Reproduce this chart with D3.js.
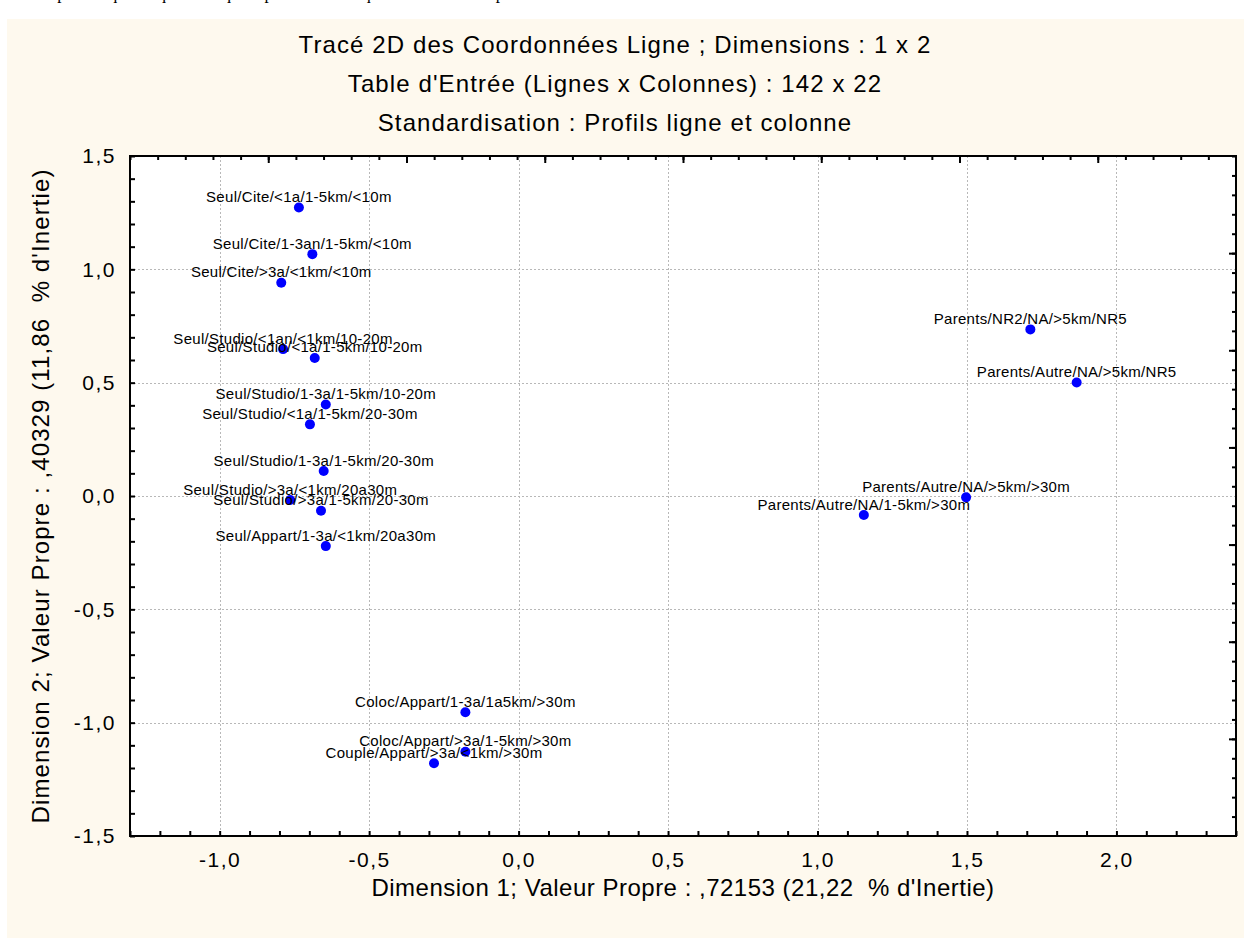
<!DOCTYPE html>
<html>
<head>
<meta charset="utf-8">
<script src="https://cdn.jsdelivr.net/npm/d3@7"></script>
<style>
  body { margin: 0; background: #fff; }
  svg { display: block; font-family: "Liberation Sans", Arial, sans-serif; }
</style>
</head>
<body>
<svg id="chart"></svg>
<script>
// --- data ---
const rowLabels = [
  "Seul/Cite/<1a/1-5km/<10m",
  "Seul/Cite/1-3an/1-5km/<10m",
  "Seul/Cite/>3a/<1km/<10m",
  "Seul/Studio/<1an/<1km/10-20m",
  "Seul/Studio/<1a/1-5km/10-20m",
  "Seul/Studio/1-3a/1-5km/10-20m",
  "Seul/Studio/<1a/1-5km/20-30m",
  "Seul/Studio/1-3a/1-5km/20-30m",
  "Seul/Studio/>3a/<1km/20a30m",
  "Seul/Studio/>3a/1-5km/20-30m",
  "Seul/Appart/1-3a/<1km/20a30m",
  "Coloc/Appart/1-3a/1a5km/>30m",
  "Coloc/Appart/>3a/1-5km/>30m",
  "Couple/Appart/>3a/<1km/>30m",
  "Parents/NR2/NA/>5km/NR5",
  "Parents/Autre/NA/>5km/NR5",
  "Parents/Autre/NA/>5km/>30m",
  "Parents/Autre/NA/1-5km/>30m"
];
const dim1 = [-0.735, -0.690, -0.794, -0.788, -0.682, -0.645, -0.698, -0.652, -0.764,
              -0.661, -0.645, -0.178, -0.178, -0.283, 1.712, 1.867, 1.497, 1.155];
const dim2 = [1.273, 1.067, 0.941, 0.648, 0.609, 0.404, 0.316, 0.110, -0.018,
              -0.065, -0.221, -0.954, -1.128, -1.179, 0.735, 0.501, -0.006, -0.084];

const xTickValues = [-1.0, -0.5, 0.0, 0.5, 1.0, 1.5, 2.0];
const yTickValues = [-1.5, -1.0, -0.5, 0.0, 0.5, 1.0, 1.5];
const xDomain = [-1.3, 2.4];
const yDomain = [-1.5, 1.5];

const titleLines = [
  "Tracé 2D des Coordonnées Ligne ; Dimensions : 1 x 2",
  "Table d'Entrée (Lignes x Colonnes) : 142 x 22",
  "Standardisation : Profils ligne et colonne"
];
const xAxisTitle = "Dimension 1; Valeur Propre : ,72153 (21,22  % d'Inertie)";
const yAxisTitle = "Dimension 2; Valeur Propre : ,40329 (11,86  % d'Inertie)";
const cutText = "teurs plus fréquents que ceux qui dépendent de ce qui a été constaté à partir des résultats.";

class CoordPlot {

  constructor(_config) {
    this.config = {
      parentElement: _config.parentElement,
      containerWidth: _config.containerWidth || 1244,
      containerHeight: _config.containerHeight || 938,
      plot: { left: 130, right: 1236, top: 156, bottom: 836 }
    };
    this.initVis();
  }

  initVis() {
    let vis = this;
    const p = vis.config.plot;

    vis.svg = d3.select(vis.config.parentElement)
      .attr('width', vis.config.containerWidth)
      .attr('height', vis.config.containerHeight);

    // french number format : comma decimal, plain hyphen minus
    vis.fmt = d3.formatLocale({ decimal: ',', thousands: ' ', grouping: [3], currency: ['', ''], minus: '-' })
      .format('.1f');

    vis.xScale = d3.scaleLinear().domain(xDomain).range([p.left, p.right]);
    vis.yScale = d3.scaleLinear().domain(yDomain).range([p.bottom, p.top]);

    // secondary scales STATISTICA puts on top / right (not aligned with grid)
    vis.topScale = d3.scaleLinear().domain([0, 8]).range([p.left, p.right]);
    vis.rightScale = d3.scaleLinear().domain([0, 7]).range([p.top, p.bottom]);

    vis.renderVis();
  }

  renderVis() {
    let vis = this;
    const p = vis.config.plot;

    // cut-off line of the page above
    vis.svg.append('text')
      .attr('x', 20).attr('y', -1)
      .style('font-family', '"Liberation Serif", "Times New Roman", serif')
      .style('font-size', '17px')
      .text(cutText);

    // cream panel
    vis.svg.append('rect')
      .attr('x', 7).attr('y', 19)
      .attr('width', vis.config.containerWidth - 7)
      .attr('height', vis.config.containerHeight - 19)
      .attr('fill', '#fef9ee');

    vis.svg.append('rect')
      .attr('x', p.left).attr('y', p.top)
      .attr('width', p.right - p.left).attr('height', p.bottom - p.top)
      .attr('fill', '#fff');

    // grid
    const grid = vis.svg.append('g').attr('class', 'grid')
      .attr('stroke', '#b8b8b8').attr('stroke-dasharray', '2,2').attr('stroke-width', 1);
    grid.selectAll('.gx').data(xTickValues).join('line')
      .attr('x1', d => Math.round(vis.xScale(d)) + 0.5).attr('x2', d => Math.round(vis.xScale(d)) + 0.5)
      .attr('y1', p.top).attr('y2', p.bottom);
    grid.selectAll('.gy').data(yTickValues.slice(1, -1)).join('line')
      .attr('y1', d => Math.round(vis.yScale(d)) + 0.5).attr('y2', d => Math.round(vis.yScale(d)) + 0.5)
      .attr('x1', p.left).attr('x2', p.right);

    // minor ticks, inward
    const xMinor = d3.range(-13, 25).map(i => i / 10);
    const yMinor = d3.range(-15, 16).map(i => i / 10);

    const bottomTicks = vis.svg.append('g')
      .attr('transform', `translate(0,${p.bottom})`)
      .call(d3.axisBottom(vis.xScale).tickValues(xMinor).tickSize(-5).tickFormat(''));
    const leftTicks = vis.svg.append('g')
      .attr('transform', `translate(${p.left},0)`)
      .call(d3.axisLeft(vis.yScale).tickValues(yMinor).tickSize(-5).tickFormat(''));
    const topMinor = vis.svg.append('g')
      .attr('transform', `translate(0,${p.top})`)
      .call(d3.axisTop(vis.topScale).tickValues(d3.range(0, 40).map(i => i / 5)).tickSize(-4).tickFormat(''));
    const topMajor = vis.svg.append('g')
      .attr('transform', `translate(0,${p.top})`)
      .call(d3.axisTop(vis.topScale).tickValues(d3.range(1, 8)).tickSize(-7).tickFormat(''));
    const rightMinor = vis.svg.append('g')
      .attr('transform', `translate(${p.right},0)`)
      .call(d3.axisRight(vis.rightScale).tickValues(d3.range(0, 35).map(i => i / 5)).tickSize(-4).tickFormat(''));
    const rightMajor = vis.svg.append('g')
      .attr('transform', `translate(${p.right},0)`)
      .call(d3.axisRight(vis.rightScale).tickValues(d3.range(1, 7)).tickSize(-7).tickFormat(''));

    [bottomTicks, leftTicks, topMinor, topMajor, rightMinor, rightMajor].forEach(g => {
      g.select('.domain').remove();
      g.selectAll('line').attr('stroke', '#000').attr('stroke-width', 2);
    });

    // tick labels
    const xLab = vis.svg.append('g')
      .attr('transform', `translate(0,${p.bottom})`)
      .call(d3.axisBottom(vis.xScale).tickValues(xTickValues).tickSize(0).tickPadding(16).tickFormat(vis.fmt));
    const yLab = vis.svg.append('g')
      .attr('transform', `translate(${p.left},0)`)
      .call(d3.axisLeft(vis.yScale).tickValues(yTickValues).tickSize(0).tickPadding(14).tickFormat(vis.fmt));
    [xLab, yLab].forEach(g => {
      g.select('.domain').remove();
      g.selectAll('text')
        .attr('fill', '#000')
        .style('font-family', '"Liberation Sans", Arial, sans-serif')
        .style('font-size', '21px')
        .style('letter-spacing', '1.5px');
    });

    // frame
    vis.svg.append('rect')
      .attr('x', p.left).attr('y', p.top)
      .attr('width', p.right - p.left).attr('height', p.bottom - p.top)
      .attr('fill', 'none').attr('stroke', '#000').attr('stroke-width', 2);

    // titles
    vis.svg.selectAll('.title').data(titleLines).join('text')
      .attr('class', 'title')
      .attr('x', 615)
      .attr('y', (d, i) => 53 + i * 39)
      .attr('text-anchor', 'middle')
      .style('font-size', '24px')
      .style('letter-spacing', '1.1px')
      .text(d => d);

    vis.svg.append('text')
      .attr('x', (p.left + p.right) / 2).attr('y', 896)
      .attr('text-anchor', 'middle')
      .style('font-size', '24px')
      .style('letter-spacing', '0.5px')
      .style('white-space', 'pre')
      .text(xAxisTitle);

    vis.svg.append('text')
      .attr('transform', `translate(49,${(p.top + p.bottom) / 2}) rotate(-90)`)
      .attr('text-anchor', 'middle')
      .style('font-size', '24px')
      .style('letter-spacing', '1.1px')
      .style('white-space', 'pre')
      .text(yAxisTitle);

    // points + labels
    const pts = rowLabels.map((name, i) => ({ name, x: dim1[i], y: dim2[i] }));

    vis.svg.append('g').selectAll('circle').data(pts).join('circle')
      .attr('cx', d => vis.xScale(d.x))
      .attr('cy', d => vis.yScale(d.y))
      .attr('r', 5)
      .attr('fill', '#0000ff');

    vis.svg.append('g').selectAll('text').data(pts).join('text')
      .attr('x', d => vis.xScale(d.x))
      .attr('y', d => vis.yScale(d.y) - 5.5)
      .attr('text-anchor', 'middle')
      .style('font-size', '15px')
      .style('letter-spacing', '0.3px')
      .attr('fill', '#000')
      .text(d => d.name);
  }
}

new CoordPlot({ parentElement: '#chart' });
</script>
</body>
</html>
